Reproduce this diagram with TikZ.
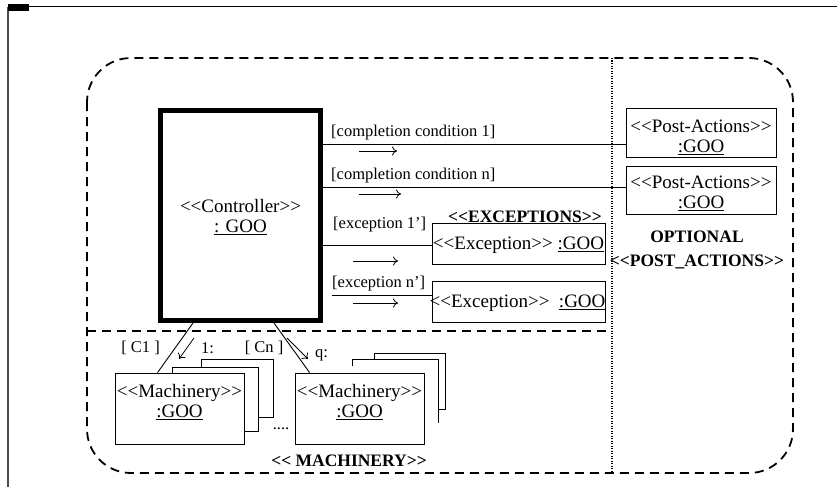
\documentclass[tikz,border=0pt]{standalone}
\usepackage{fontspec}
\setmainfont{Liberation Serif}
\usetikzlibrary{arrows.meta}
% guillemet-like stereotype brackets, kept as two separate glyphs
\newcommand\gopen{<{}<}
\newcommand\gclose{>{}>}

\begin{document}
\begin{tikzpicture}[x=1pt,y=-1pt,
  box/.style={draw, line width=0.9pt, fill=white, inner sep=0pt},
  ctrlbox/.style={draw, line width=5pt, inner sep=0pt},
  txt/.style={inner sep=0pt, align=center, font=\fontsize{19}{20}\selectfont},
  lbl/.style={inner sep=0pt, font=\fontsize{16.5}{18}\selectfont},
  ttl/.style={inner sep=0pt, align=center, font=\fontsize{17.5}{24}\selectfont\bfseries},
  wire/.style={line width=0.9pt},
  dirarrow/.style={line width=0.8pt, -{To[length=5pt,width=9pt]}},
  region/.style={line width=1.8pt, dash pattern=on 9pt off 6pt},
  card/.style={line width=0.9pt}
]
\useasboundingbox (0,0) rectangle (837,487);

% page frame
\draw[line width=1pt] (8,7) -- (837,7);
\draw[line width=1.5pt, black!70] (8,7) -- (8,487);
\fill (8,4) rectangle (29,11);

% regions: rounded outline, machinery separator, optional post-actions column
\draw[region, rounded corners=44pt] (87,58) rectangle (793,473);
\draw[region] (87,331) -- (612,331);
\draw[line width=1.5pt, dash pattern=on 1.2pt off 1.3pt] (612,58) -- (612,473);

% controller
\node[ctrlbox, minimum width=160pt, minimum height=210pt] (ctrl) at (240.5,215.5) {};
\node[txt] (ctrlt) at (240.5,217) {\gopen Controller\gclose\\\underline{: GOO}};

% post-actions
\node[box, minimum width=150pt, minimum height=49pt] (pa1) at (701,132.5) {};
\node[txt] (pa1t) at (701,137) {\gopen Post-Actions\gclose\\\underline{:GOO}};
\node[box, minimum width=150pt, minimum height=48pt] (pa2) at (701,190) {};
\node[txt] (pa2t) at (701,193) {\gopen Post-Actions\gclose\\\underline{:GOO}};
\node[ttl] (optt) at (697,250) {OPTIONAL\\\gopen POST\_ACTIONS\gclose};

% exceptions
\node[box, minimum width=173pt, minimum height=41pt] (ex1) at (518.5,243.5) {};
\node[txt] (ex1t) at (518.5,245) {\gopen Exception\gclose{} \underline{:GOO}};
\node[box, minimum width=173pt, minimum height=41pt] (ex2) at (518.5,301.5) {};
\node[txt] (ex2t) at (517.5,303) {\gopen Exception\gclose{}\ \ \underline{:GOO}};
\node[ttl] (ext) at (525,217) {\gopen EXCEPTIONS\gclose};

% completion and exception transitions
\coordinate (c1) at ([yshift=-11.5pt]pa1.west);
\coordinate (c2) at ([yshift=3pt]pa2.west);
\coordinate (c3) at ([yshift=-1.5pt]ex1.west);
\coordinate (c4) at ([yshift=6.5pt]ex2.west);
\coordinate (c4s) at (332,295);
\draw[wire] (c1 -| ctrl.east) -- (c1);
\draw[wire] (c2 -| ctrl.east) -- (c2);
\draw[wire] (c3 -| ctrl.east) -- (c3);
\draw[wire] (c4s) -- (c4);

\node[lbl, anchor=west] (l1) at (331,133) {[completion condition 1]};
\node[lbl, anchor=west] (l2) at (331,176) {[completion condition n]};
\node[lbl, anchor=west] (l3) at (333,225) {[exception 1']};
\node[lbl, anchor=west] (l4) at (332,284) {[exception n']};

\draw[dirarrow] (359,151) -- (397,151);
\draw[dirarrow] (359,194) -- (401,194);
\draw[dirarrow] (353,261) -- (398,261);
\draw[dirarrow] (353,303) -- (398,303);

% machinery stacks (cards behind the front instance)
\draw[card] (201,367) -- (201,359) -- (273,359) -- (273,417) -- (258,417);
\draw[card] (172,373) -- (172,367) -- (258,367) -- (258,431) -- (244,431);
\draw[card] (374,359) -- (374,353) -- (445,353) -- (445,409) -- (438,409);
\draw[card] (352,366) -- (352,359) -- (438,359) -- (438,423);

\node[box, minimum width=129pt, minimum height=71pt] (m1) at (179.5,408.5) {};
\node[txt] (m1t) at (179.5,402) {\gopen Machinery\gclose\\\underline{:GOO}};
\node[box, minimum width=129pt, minimum height=71pt] (m2) at (359.5,408.5) {};
\node[txt] (m2t) at (359.5,402) {\gopen Machinery\gclose\\\underline{:GOO}};

\draw[wire] ([xshift=35pt]ctrl.south west) -- ([xshift=43pt]m1.north west);
\draw[wire] ([xshift=116pt]ctrl.south west) -- ([xshift=15pt]m2.north west);
\draw[dirarrow] (194,338) -- (179,359);
\draw[dirarrow] (287,338) -- (308,359);

\node[lbl] (g1) at (140.5,348) {[ C1 ]};
\node[lbl] (n1) at (207.5,348) {1:};
\node[lbl] (gn) at (264,348) {[ Cn ]};
\node[lbl] (nq) at (321.5,355) {q:};
\node[lbl] (dots) at (281,429) {....};
\node[ttl] (mt) at (349,461) {\gopen{} MACHINERY\gclose};
\end{tikzpicture}
\end{document}
